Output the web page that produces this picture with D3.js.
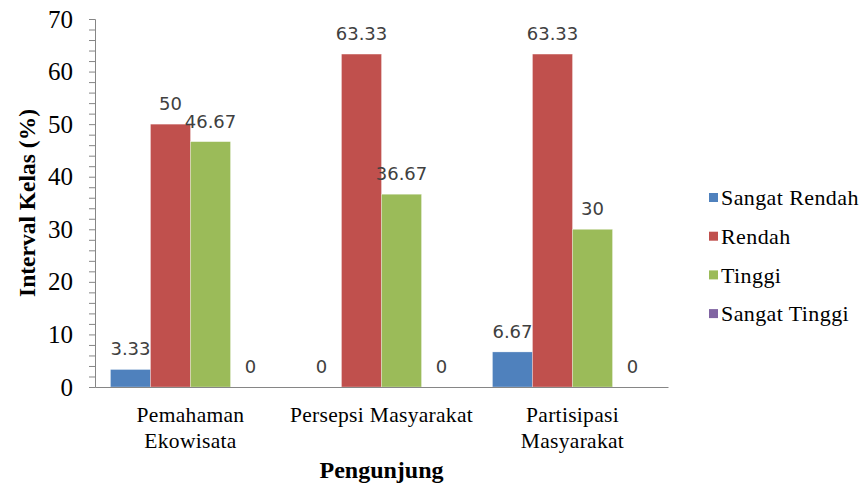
<!DOCTYPE html>
<html>
<head>
<meta charset="utf-8">
<script src="https://cdn.jsdelivr.net/npm/d3@7"></script>
<style>
  body { margin: 0; background: #fff; }
  svg { display: block; }
</style>
</head>
<body>
<svg id="chart" width="861" height="486"></svg>
<script>
// Data
const categories = [['Pemahaman', 'Ekowisata'], ['Persepsi Masyarakat'], ['Partisipasi', 'Masyarakat']];
const seriesNames = ['Sangat Rendah', 'Rendah', 'Tinggi', 'Sangat Tinggi'];
const sangatRendah = [3.33, 0, 6.67];
const rendah = [50, 63.33, 63.33];
const tinggi = [46.67, 36.67, 30];
const sangatTinggi = [0, 0, 0];
const yTicks = [0, 10, 20, 30, 40, 50, 60, 70];
const colors = ['#4F81BD', '#C0504D', '#9BBB59', '#8064A2'];

const seriesValues = [sangatRendah, rendah, tinggi, sangatTinggi];
const catKeys = categories.map(c => c.join(' '));

const margin = {top: 19, left: 95, bottom: 99, right: 193};
const width = 861, height = 486;
const plotW = width - margin.left - margin.right;
const plotH = height - margin.top - margin.bottom;

const svg = d3.select('#chart');
const g = svg.append('g').attr('transform', `translate(${margin.left},${margin.top})`);

const x0 = d3.scaleBand().domain(catKeys).range([0, plotW]).paddingInner(0.162).paddingOuter(0.081);
const x1 = d3.scaleBand().domain(seriesNames).range([0, x0.bandwidth()]);
const y = d3.scaleLinear().domain([0, 70]).range([plotH, 0]);

const serif = '"Liberation Serif", "Times New Roman", serif';
const sans = '"DejaVu Sans", Verdana, sans-serif';

// bars
const groups = g.selectAll('.grp')
  .data(catKeys)
  .join('g')
  .attr('class', 'grp')
  .attr('transform', d => `translate(${x0(d)},0)`);

groups.selectAll('rect')
  .data((d, i) => seriesNames.map((s, j) => ({s, v: seriesValues[j][i], j})))
  .join('rect')
  .attr('x', d => x1(d.s))
  .attr('y', d => y(d.v))
  .attr('width', x1.bandwidth())
  .attr('height', d => plotH - y(d.v))
  .attr('fill', d => colors[d.j])
  .attr('stroke', 'rgba(255,255,255,0.5)')
  .attr('stroke-width', 0.6);

groups.selectAll('text.lbl')
  .data((d, i) => seriesNames.map((s, j) => ({s, v: seriesValues[j][i], j})))
  .join('text')
  .attr('class', 'lbl')
  .attr('x', d => x1(d.s) + x1.bandwidth() / 2)
  .attr('y', d => y(d.v) - 14)
  .attr('text-anchor', 'middle')
  .attr('font-family', sans)
  .attr('font-size', 18)
  .attr('fill', '#404040')
  .text(d => d.v);

// y axis with minor ticks
const yAxisG = g.append('g');
yAxisG.call(d3.axisLeft(y).tickValues(d3.range(0, 71, 2)).tickSize(6).tickFormat(''));
yAxisG.select('.domain').attr('stroke', '#868686');
yAxisG.selectAll('.tick line').attr('stroke', '#868686');

g.selectAll('.ylab')
  .data(yTicks)
  .join('text')
  .attr('class', 'ylab')
  .attr('x', -22)
  .attr('y', d => y(d))
  .attr('dy', '0.34em')
  .attr('text-anchor', 'end')
  .attr('font-family', serif)
  .attr('font-size', 25)
  .attr('fill', '#000')
  .text(d => d);

// x axis line
const xAxisG = g.append('g').attr('transform', `translate(0,${plotH})`);
xAxisG.call(d3.axisBottom(x0).tickSize(0).tickFormat(''));
xAxisG.select('.domain').attr('stroke', '#868686');

// category labels
g.selectAll('.xlab')
  .data(categories)
  .join('text')
  .attr('class', 'xlab')
  .attr('x', (d, i) => x0(catKeys[i]) + x0.bandwidth() / 2)
  .attr('y', plotH + 35)
  .attr('text-anchor', 'middle')
  .attr('font-family', serif)
  .attr('font-size', 21.5)
  .attr('letter-spacing', 0.3)
  .attr('fill', '#000')
  .selectAll('tspan')
  .data(d => d)
  .join('tspan')
  .attr('x', function() { return d3.select(this.parentNode).attr('x'); })
  .attr('dy', (d, i) => i === 0 ? 0 : 26)
  .text(d => d);

// axis titles
svg.append('text')
  .attr('x', margin.left + plotW / 2)
  .attr('y', 478)
  .attr('text-anchor', 'middle')
  .attr('font-family', serif)
  .attr('font-size', 24)
  .attr('font-weight', 'bold')
  .text('Pengunjung');

svg.append('text')
  .attr('transform', `translate(35,${margin.top + plotH / 2}) rotate(-90)`)
  .attr('text-anchor', 'middle')
  .attr('font-family', serif)
  .attr('font-size', 23.5)
  .attr('font-weight', 'bold')
  .text('Interval Kelas (%)');

// legend
const legend = svg.append('g').attr('transform', 'translate(709,198)');
const items = legend.selectAll('g')
  .data(seriesNames)
  .join('g')
  .attr('transform', (d, i) => `translate(0,${i * 38.7})`);
items.append('rect')
  .attr('x', 0).attr('y', -5)
  .attr('width', 9).attr('height', 9)
  .attr('fill', (d, i) => colors[i]);
items.append('text')
  .attr('x', 12)
  .attr('y', 0)
  .attr('dy', '0.33em')
  .attr('font-family', serif)
  .attr('font-size', 22)
  .attr('letter-spacing', 0.4)
  .attr('fill', '#000')
  .text(d => d);
</script>
</body>
</html>
